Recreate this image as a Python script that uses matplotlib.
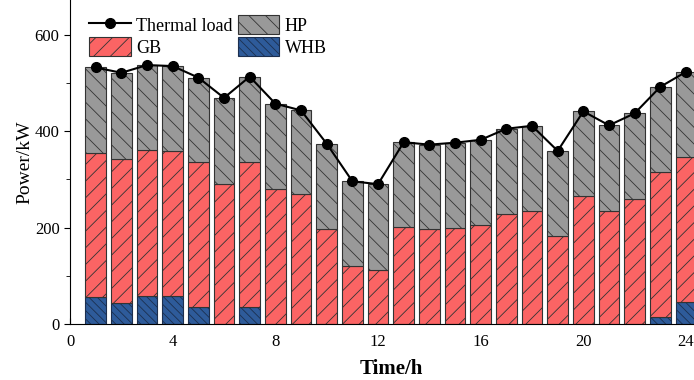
import numpy as np
import matplotlib
matplotlib.use("Agg")
import matplotlib.pyplot as plt
from matplotlib.ticker import MultipleLocator

# Hourly heat supply schedule
hours = list(range(1, 25))
thermal_load = [532, 521, 537, 535, 511, 469, 513, 457, 443, 374, 296, 290,
                377, 372, 376, 382, 405, 411, 359, 441, 412, 437, 492, 523]
whb = [55, 43, 59, 58, 35, 0, 35, 0, 0, 0, 0, 0,
       0, 0, 0, 0, 0, 0, 0, 0, 0, 0, 15, 46]
gb = [300, 300, 302, 300, 300, 291, 300, 280, 269, 198, 120, 113,
      202, 196, 200, 205, 229, 234, 182, 265, 234, 260, 301, 301]
hp = [177, 178, 176, 177, 176, 178, 178, 177, 174, 176, 176, 177,
      175, 176, 176, 177, 176, 177, 177, 176, 178, 177, 176, 176]

x_ticks = [0, 4, 8, 12, 16, 20, 24]
y_ticks = [0, 200, 400, 600]

plt.rcParams["font.family"] = ["Liberation Serif", "DejaVu Serif"]
plt.rcParams["hatch.linewidth"] = 0.6

fig = plt.figure(figsize=(6.94, 3.80), dpi=100)
ax = fig.add_axes([0.1009, 0.1474, 0.9246, 0.8526])

x = np.array(hours)
whb_a = np.array(whb)
gb_a = np.array(gb)
hp_a = np.array(hp)
width = 0.8
edge = "#333333"

ax.bar(x, whb_a, width, color="#2e5b9a", edgecolor="#1c2f4f", linewidth=0.8,
       hatch="\\\\\\\\", label="WHB", zorder=2)
ax.bar(x, gb_a, width, bottom=whb_a, color="#fb6464", edgecolor=edge,
       linewidth=0.8, hatch="//", label="GB", zorder=2)
ax.bar(x, hp_a, width, bottom=whb_a + gb_a, color="#999999", edgecolor=edge,
       linewidth=0.8, hatch="\\\\", label="HP", zorder=2)
ax.plot(x, thermal_load, color="black", lw=1.5, marker="o", markersize=7,
        label="Thermal load", zorder=4)

ax.set_xlim(0, 25)
ax.set_ylim(0, 672)
ax.set_xticks(x_ticks)
ax.set_yticks(y_ticks)
ax.xaxis.set_minor_locator(MultipleLocator(2))
ax.yaxis.set_minor_locator(MultipleLocator(100))
ax.tick_params(axis="x", which="both", direction="in", labelsize=12, pad=7)
ax.tick_params(axis="x", which="major", length=4)
ax.tick_params(axis="x", which="minor", length=3)
ax.tick_params(axis="y", which="both", direction="out", labelsize=12)
ax.tick_params(axis="y", which="major", length=4)
ax.tick_params(axis="y", which="minor", length=3)
for s in ("top", "right"):
    ax.spines[s].set_visible(False)

ax.set_xlabel("Time/h", fontsize=15, fontweight="bold", labelpad=7)
ax.set_ylabel("Power/kW", fontsize=14, labelpad=1)

handles, labels = ax.get_legend_handles_labels()
order = ["Thermal load", "GB", "HP", "WHB"]
hmap = dict(zip(labels, handles))
ax.legend([hmap[k] for k in order], order, ncol=2, frameon=False,
          fontsize=13, loc="upper left", bbox_to_anchor=(0.01, 0.992),
          handlelength=2.3, handleheight=1.2, handletextpad=0.3,
          columnspacing=0.3, labelspacing=0.15, borderaxespad=0.3)

fig.savefig("out.png", dpi=100)
